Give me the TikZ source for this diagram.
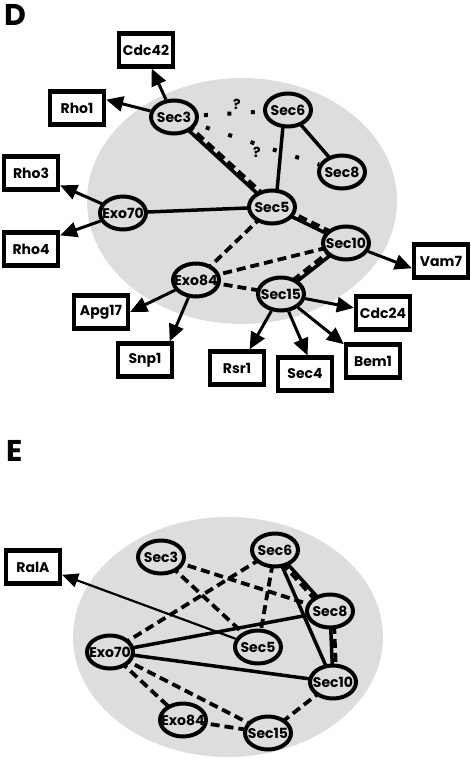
\documentclass[tikz,border=0pt]{standalone}
\usepackage{fontspec}
\newfontfamily\pop{Poppins}
\usetikzlibrary{shapes.geometric,arrows.meta,calc}
\pgfdeclarelayer{back}
\pgfdeclarelayer{edges}
\pgfsetlayers{back,edges,main}
\definecolor{bggray}{RGB}{221,221,221}
\newcommand\mb[1]{\makebox[0pt][c]{#1}}
\tikzset{
  sec/.style={ellipse, draw, line width=4pt, fill=bggray, minimum width=46pt,
    minimum height=33pt, inner sep=0pt, font=\pop\bfseries\fontsize{14}{14}\selectfont},
  bx/.style={rectangle, draw, line width=4.2pt, fill=white, minimum width=54pt,
    minimum height=33pt, inner sep=0pt, font=\pop\bfseries\fontsize{14}{14}\selectfont},
  arr/.style={line width=3pt, -{Triangle[length=17pt,width=15pt]}},
  thinarr/.style={line width=2.2pt, -{Triangle[length=16pt,width=14pt]}},
  sol/.style={line width=3.5pt},
  dsh/.style={line width=3.8pt, dash pattern=on 9pt off 5pt},
  dotl/.style={line width=4pt, dash pattern=on 4pt off 19.5pt},
  lbl/.style={font=\pop\bfseries\fontsize{30}{30}\selectfont, inner sep=0pt, anchor=base west},
  qm/.style={font=\pop\bfseries\fontsize{14}{14}\selectfont, inner sep=0pt}
}
\newcommand\dbl[3]{%
  \draw[sol] (#1.center) -- (#2.center);
  \draw[dsh] ($(#1.center)!#3!90:(#2.center)$) -- ($(#2.center)!#3!-90:(#1.center)$);
}
\begin{document}
\begin{tikzpicture}[x=1pt,y=-1pt]
\useasboundingbox (0,0) rectangle (471,761);
\node[lbl] (D) at (4,25) {D};
\node[lbl] (E) at (6,461) {E};

\begin{pgfonlayer}{back}
  \fill[bggray] (242,201) ellipse [x radius=155, y radius=123];
  \fill[bggray] (228,637) ellipse [x radius=155, y radius=120];
\end{pgfonlayer}

% ---------- panel D ----------
\node[sec] (s3) at (174,117) {\mb{Sec3}};
\node[sec] (s6) at (288,110) {\mb{Sec6}};
\node[sec] (s8) at (342,172) {\mb{Sec8}};
\node[sec] (s5) at (272,207) {\mb{Sec5}};
\node[sec] (s10) at (346,243) {\mb{Sec10}};
\node[sec] (e70) at (123,213) {\mb{Exo70}};
\node[sec] (e84) at (196,280) {\mb{Exo84}};
\node[sec] (s15) at (281,294) {\mb{Sec15}};

\node[bx] (cdc42) at (146,50) {Cdc42};
\node[bx] (rho1) at (77,108) {Rho1};
\node[bx] (rho3) at (31,173) {Rho3};
\node[bx] (rho4) at (31,249) {Rho4};
\node[bx] (apg17) at (101,312) {Apg17};
\node[bx] (snp1) at (145,360) {Snp1};
\node[bx] (rsr1) at (237,368) {Rsr1};
\node[bx] (sec4) at (305,374) {Sec4};
\node[bx] (bem1) at (373,361) {Bem1};
\node[bx] (cdc24) at (383,313) {Cdc24};
\node[bx] (vam7) at (441,261) {Vam7};

\node[qm] (q1) at (237,104) {?};
\node[qm] (q2) at (257,152) {?};

\begin{pgfonlayer}{edges}
  \dbl{s3}{s5}{3.5pt}
  \dbl{s5}{s10}{3.5pt}
  \dbl{s10}{s15}{-3.5pt}
  \draw[sol] (s6.254) -- (s5.74);
  \draw[sol] (s6.center) -- (s8.center);
  \draw[sol] (e70.center) -- (s5.center);
  \draw[dsh] (s5.center) -- (e84.center);
  \draw[dsh] (e84.center) -- (s10.center);
  \draw[dsh] (e84.center) -- (s15.center);
  \draw[dotl, dash phase=18.5pt] (s3) -- (s6);
  \draw[dotl, dash phase=14pt] (s3) -- (s8);
\end{pgfonlayer}

\draw[arr] (s3) -- (cdc42.-73);
\draw[arr] (s3) -- (rho1.16);
\draw[arr] (e70) -- (rho3.-23);
\draw[arr] (e70) -- (rho4.25);
\draw[arr] (e84) -- (apg17.east);
\draw[arr] (e84) -- (snp1.37);
\draw[arr] (s15) -- (rsr1.56);
\draw[arr] (s15) -- (sec4.82);
\draw[arr] (s15) -- (bem1.150);
\draw[arr] (s15) -- (cdc24.170);
\draw[arr] (s10) -- (vam7.194);

% ---------- panel E ----------
\node[sec] (t3) at (161,557) {\mb{Sec3}};
\node[sec] (t6) at (275,550) {\mb{Sec6}};
\node[sec] (t8) at (330,611) {\mb{Sec8}};
\node[sec] (t5) at (258,647) {\mb{Sec5}};
\node[sec] (t10) at (333,682) {\mb{Sec10}};
\node[sec] (t15) at (268,733) {\mb{Sec15}};
\node[sec] (f70) at (110,652) {\mb{Exo70}};
\node[sec] (f84) at (183,720) {\mb{Exo84}};
\node[bx] (rala) at (33,567) {RalA};

\begin{pgfonlayer}{edges}
  \dbl{t6}{t8}{-3.5pt}
  \dbl{t8}{t10}{3.5pt}
  \draw[dsh] (t3.center) -- (t8.center);
  \draw[dsh] (t3.center) -- (t5.center);
  \draw[dsh] (f70.center) -- (t6.center);
  \draw[sol] (f70.center) -- (t8.center);
  \draw[sol] (f70.center) -- (t10.center);
  \draw[dsh] (f70.center) -- (t15.center);
  \draw[dsh] (f70.center) -- (f84.center);
  \draw[dsh] (f84.center) -- (t15.center);
  \draw[dsh] (t6.center) -- (t5.center);
  \draw[sol] (t6.center) -- (t10.center);
  \draw[dsh] (t10.center) -- (t15.center);
\end{pgfonlayer}
\draw[thinarr] (t5) -- (rala.-15);
\end{tikzpicture}
\end{document}
